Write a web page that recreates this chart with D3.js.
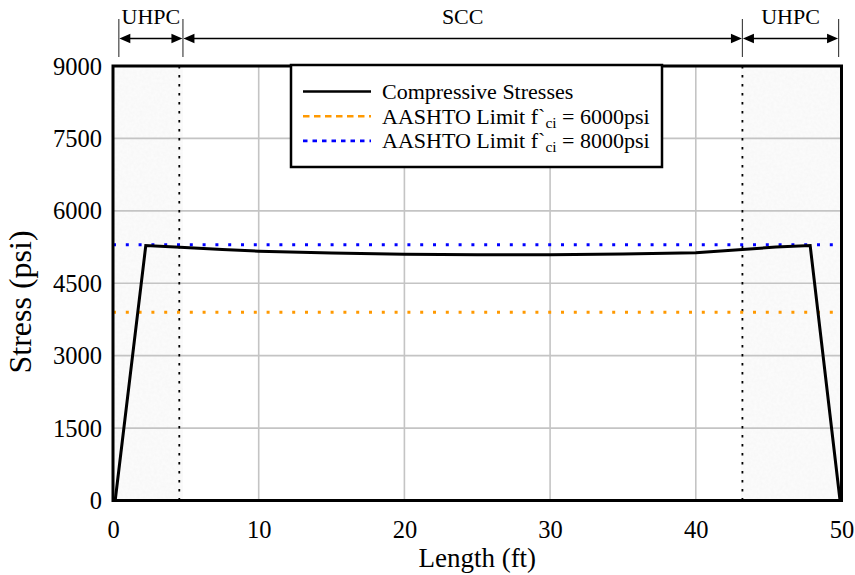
<!DOCTYPE html>
<html><head><meta charset="utf-8">
<script src="https://cdn.jsdelivr.net/npm/d3@7"></script>
<style>html,body{margin:0;padding:0;background:#fff;}svg{display:block;}</style>
</head><body>
<script>
// ---- data ----
const lengthFt  = [0.15, 2.25, 4.6, 7.5, 10, 15, 20, 25, 30, 35, 40, 43.2, 45.5, 47.85, 49.9];
const stressPsi = [0, 5280, 5245, 5200, 5165, 5125, 5100, 5090, 5090, 5105, 5130, 5200, 5250, 5280, 0];
const limitNames = ["AASHTO Limit f`ci = 6000psi", "AASHTO Limit f`ci = 8000psi"];
const limitValues = [3900, 5300];
const limitColors = ["#FF9900", "#0000FF"];
const xTicks = [0, 10, 20, 30, 40, 50];
const yTicks = [0, 1500, 3000, 4500, 6000, 7500, 9000];
const zoneNames = ["UHPC", "SCC", "UHPC"];
const zoneStart = [0.4, 4.8, 43.2];
const zoneEnd   = [4.8, 43.2, 49.8];
const shadeStart = [0, 43.1];
const shadeEnd   = [4.8, 50];
const boundaryFt = [4.55, 43.2];

const W = 855, H = 575;
const L = 113, R = 841.5, T = 66, B = 500.5;
const FONT = "'Liberation Serif','Times New Roman',Times,serif";

const svg = d3.select("body").append("svg").attr("width", W).attr("height", H);
const x = d3.scaleLinear().domain([0, 50]).range([L, R]);
const y = d3.scaleLinear().domain([0, 9000]).range([B, T]);

function txt(g, px, py, s, size, anchor, rot) {
  const t = g.append("text").attr("transform", `translate(${px},${py})` + (rot ? ` rotate(${rot})` : ""))
    .attr("font-family", FONT).attr("font-size", size).attr("fill", "#000")
    .attr("text-anchor", anchor || "start");
  if (typeof s === "string") t.text(s);
  return t;
}

// texture filter for shaded zones
const defs = svg.append("defs");
const f = defs.append("filter").attr("id", "grain").attr("x", 0).attr("y", 0).attr("width", 1).attr("height", 1);
f.append("feTurbulence").attr("type", "fractalNoise").attr("baseFrequency", 0.35).attr("numOctaves", 2).attr("seed", 3).attr("result", "n");
f.append("feColorMatrix").attr("in", "n").attr("type", "matrix")
  .attr("values", "0 0 0 0.05 0.925  0 0 0 0.05 0.925  0 0 0 0.05 0.925  0 0 0 0 1").attr("result", "g");
f.append("feComposite").attr("in", "g").attr("in2", "SourceGraphic").attr("operator", "in");

// shaded UHPC zones
svg.append("g").selectAll("rect").data(shadeStart).join("rect")
  .attr("x", (d) => x(d)).attr("y", T)
  .attr("width", (d, i) => x(shadeEnd[i]) - x(d)).attr("height", B - T)
  .attr("fill", "#f3f3f3").attr("filter", "url(#grain)");

// grid
const grid = svg.append("g");
grid.selectAll("line.v").data(xTicks.slice(1, -1)).join("line")
  .attr("x1", d => x(d)).attr("x2", d => x(d)).attr("y1", T).attr("y2", B)
  .attr("stroke", "#c4c4c4").attr("stroke-width", 1.6);
grid.selectAll("line.h").data(yTicks.slice(1, -1)).join("line")
  .attr("y1", d => y(d)).attr("y2", d => y(d)).attr("x1", L).attr("x2", R)
  .attr("stroke", "#c4c4c4").attr("stroke-width", 1.6);

// boundary dotted lines
svg.append("g").selectAll("line").data(boundaryFt).join("line")
  .attr("x1", d => x(d)).attr("x2", d => x(d)).attr("y1", T).attr("y2", B)
  .attr("stroke", "#000").attr("stroke-width", 1.8).attr("stroke-dasharray", "2.5,6.5");

// limit lines
svg.append("g").selectAll("line").data(limitValues).join("line")
  .attr("x1", L).attr("x2", R).attr("y1", d => y(d)).attr("y2", d => y(d))
  .attr("stroke", (d, i) => limitColors[i]).attr("stroke-width", 3)
  .attr("stroke-dasharray", "3,9.8");

// curve
const pts = lengthFt.map((d, i) => [d, stressPsi[i]]);
svg.append("path").datum(pts)
  .attr("d", d3.line().x(d => x(d[0])).y(d => y(d[1])))
  .attr("fill", "none").attr("stroke", "#000").attr("stroke-width", 3).attr("stroke-linejoin", "miter");

// axes frame
svg.append("rect").attr("x", L).attr("y", T).attr("width", R - L).attr("height", B - T)
  .attr("fill", "none").attr("stroke", "#000").attr("stroke-width", 3);

// axes (labels only, via d3 axis)
const xAxis = svg.append("g").attr("transform", `translate(0,${B})`)
  .call(d3.axisBottom(x).tickValues(xTicks).tickSize(0).tickPadding(0));
xAxis.select(".domain").remove();
xAxis.selectAll(".tick text").remove();
xAxis.selectAll(".tick").each(function(d) {
  txt(d3.select(this), 0, 37, String(d), 24.5, "middle");
});
const yAxis = svg.append("g").attr("transform", `translate(${L},0)`)
  .call(d3.axisLeft(y).tickValues(yTicks).tickSize(0).tickPadding(0));
yAxis.select(".domain").remove();
yAxis.selectAll(".tick text").remove();
yAxis.selectAll(".tick").each(function(d) {
  txt(d3.select(this), -11, 8, String(d), 24.5, "end");
});

// axis titles
txt(svg, (L + R) / 2, 567, "Length (ft)", 27, "middle");
txt(svg, 31, 302, "Stress (psi)", 32, "middle", -90);

// legend
const lg = svg.append("g");
lg.append("rect").attr("x", 291).attr("y", 65).attr("width", 371).attr("height", 102)
  .attr("fill", "#fff").attr("stroke", "#000").attr("stroke-width", 2.5);
const legRows = [
  { name: "Compressive Stresses", color: "#000", dash: null },
  { name: limitNames[0], color: limitColors[0], dash: "6.5,4.5" },
  { name: limitNames[1], color: limitColors[1], dash: "4.5,5" }
];
legRows.forEach((r, i) => {
  const yy = 91.5 + i * 24.7;
  lg.append("line").attr("x1", 303).attr("x2", 371).attr("y1", yy).attr("y2", yy)
    .attr("stroke", r.color).attr("stroke-width", 2.6).attr("stroke-dasharray", r.dash);
  if (i === 0) {
    txt(lg, 382, yy + 7.5, r.name, 22, "start");
  } else {
    const parts = r.name.match(/^(AASHTO Limit f`)(ci)( = .*)$/);
    const t = txt(lg, 382, yy + 7.5, null, 22, "start");
    t.append("tspan").text(parts[1]);
    t.append("tspan").attr("font-size", 15.5).attr("dy", 4).text(parts[2]);
    t.append("tspan").attr("dy", -4).text(parts[3]);
  }
});

// zone annotations
const ann = svg.append("g");
const edges = Array.from(new Set(zoneStart.concat(zoneEnd)));
ann.selectAll("line.edge").data(edges).join("line")
  .attr("x1", d => x(d)).attr("x2", d => x(d)).attr("y1", 19).attr("y2", 57)
  .attr("stroke", "#444").attr("stroke-width", 1.2);
const ay = 38.5, ah = 11, aw = 4.8;
zoneNames.forEach((n, i) => {
  const a = x(zoneStart[i]) + 0.5, b = x(zoneEnd[i]) - 0.5;
  ann.append("line").attr("x1", a + ah - 1).attr("x2", b - ah + 1).attr("y1", ay).attr("y2", ay)
    .attr("stroke", "#000").attr("stroke-width", 1.5);
  ann.append("path").attr("d", `M${a},${ay}L${a + ah},${ay - aw}L${a + ah},${ay + aw}Z`).attr("fill", "#000");
  ann.append("path").attr("d", `M${b},${ay}L${b - ah},${ay - aw}L${b - ah},${ay + aw}Z`).attr("fill", "#000");
  txt(ann, (x(zoneStart[i]) + x(zoneEnd[i])) / 2, 24, n, 22, "middle");
});
</script>
</body></html>
